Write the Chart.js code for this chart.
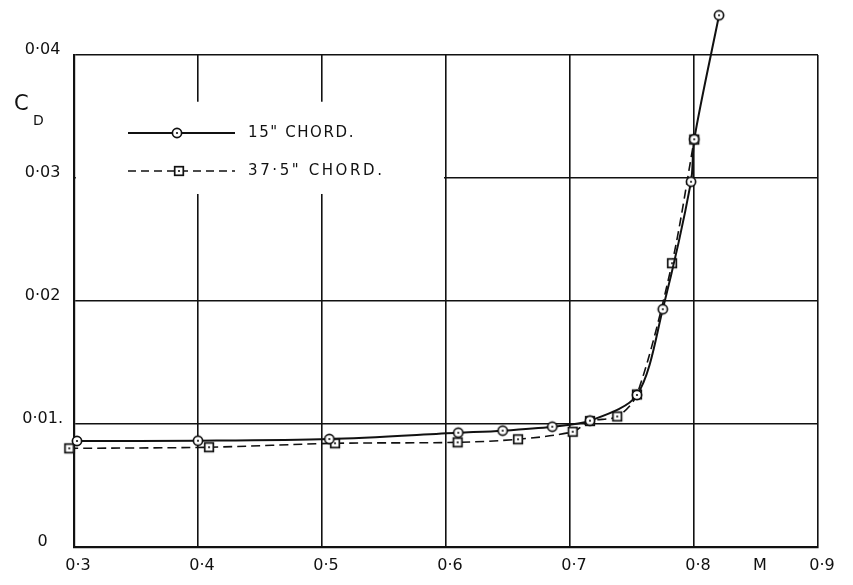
<!DOCTYPE html>
<html><head><meta charset="utf-8">
<script src="https://cdn.jsdelivr.net/npm/chart.js@4/dist/chart.umd.min.js"></script>
<style>html,body{margin:0;padding:0;background:#fff}#wrap{width:853px;height:585px}</style>
</head><body><div id="wrap"><canvas id="c" width="853" height="585"></canvas></div>
<script>
// ---- data ----
const machChord15 = [0.3024, 0.400, 0.5059, 0.6099, 0.6457, 0.6857, 0.7161, 0.7540, 0.7748, 0.7976, 0.8002, 0.8202];
const cdChord15   = [0.00862, 0.00864, 0.00878, 0.00929, 0.00946, 0.00978, 0.01027, 0.01236, 0.01933, 0.0297, 0.03315, 0.04323];
const machChord375 = [0.2962, 0.4089, 0.5105, 0.6094, 0.6581, 0.7022, 0.7161, 0.7381, 0.7540, 0.7823, 0.8002];
const cdChord375   = [0.00802, 0.00811, 0.00843, 0.00851, 0.00876, 0.00937, 0.01024, 0.01061, 0.0124, 0.02307, 0.03313];
const seriesNames = ['15" CHORD.', '37·5" CHORD.'];
const xTickLabels = ['0·3', '0·4', '0·5', '0·6', '0·7', '0·8', '0·9'];
const yTickLabels = ['0', '0·01.', '0·02', '0·03', '0·04'];
const xAxisLabel = 'M';
const yAxisLabelMain = 'C';
const yAxisLabelSub = 'D';

const INK = '#111';
const FONT = "'DejaVu Sans', sans-serif";

function makeMarker(kind) {
  const c = document.createElement('canvas');
  c.width = 14; c.height = 14;
  const g = c.getContext('2d');
  g.fillStyle = '#fff'; g.strokeStyle = INK; g.lineWidth = 1.7;
  if (kind === 'circle') {
    g.beginPath(); g.arc(7, 7, 4.6, 0, Math.PI * 2); g.fill(); g.stroke();
  } else {
    g.fillRect(2.7, 2.7, 8.6, 8.6); g.strokeRect(2.7, 2.7, 8.6, 8.6);
  }
  g.fillStyle = INK; g.beginPath(); g.arc(7, 7, 1.1, 0, Math.PI * 2); g.fill();
  return c;
}
const circleMarker = makeMarker('circle');
const squareMarker = makeMarker('square');

const xGridColor = (ctx) => (Math.round(ctx.tick.value * 100) % 10 === 0 ? INK : 'rgba(0,0,0,0)');

const paperPlugin = {
  id: 'paper',
  beforeDatasetsDraw(chart) {
    // blank the grid behind the legend, as in the original sheet
    const { ctx, scales: { x, y } } = chart;
    const x0 = x.getPixelForValue(0.3) + 2, x1 = x.getPixelForValue(0.6) - 2;
    const y0 = y.getPixelForValue(0.0362), y1 = y.getPixelForValue(0.0287);
    ctx.save(); ctx.fillStyle = '#fff'; ctx.fillRect(x0, y0, x1 - x0, y1 - y0); ctx.restore();
  },
  afterDraw(chart) {
    const { ctx, chartArea: a } = chart;
    ctx.save();
    ctx.fillStyle = INK; ctx.strokeStyle = INK;
    // y axis title C_D
    ctx.textBaseline = 'middle'; ctx.textAlign = 'left';
    ctx.font = '21px ' + FONT;
    ctx.fillText(yAxisLabelMain, 14, 105);
    ctx.font = '14px ' + FONT;
    ctx.fillText(yAxisLabelSub, 33, 121);
    // legend
    const lx0 = a.left + 54, lx1 = a.left + 161, ly1 = a.top + 78, ly2 = a.top + 116;
    ctx.lineWidth = 2; ctx.setLineDash([]);
    ctx.beginPath(); ctx.moveTo(lx0, ly1); ctx.lineTo(lx1, ly1); ctx.stroke();
    ctx.drawImage(circleMarker, a.left + 103 - 7, ly1 - 7);
    ctx.lineWidth = 1.6; ctx.setLineDash([8, 5]);
    ctx.beginPath(); ctx.moveTo(lx0, ly2); ctx.lineTo(lx1, ly2); ctx.stroke();
    ctx.setLineDash([]);
    ctx.drawImage(squareMarker, a.left + 105 - 7, ly2 - 7);
    ctx.font = '15px ' + FONT;
    ctx.letterSpacing = '1.6px';
    ctx.fillText(seriesNames[0], a.left + 174, ly1);
    ctx.letterSpacing = '2.6px';
    ctx.fillText(seriesNames[1], a.left + 174, ly2);
    ctx.restore();
  }
};

new Chart(document.getElementById('c'), {
  type: 'line',
  data: {
    datasets: [
      {
        label: seriesNames[0],
        data: machChord15.map((m, i) => ({ x: m, y: cdChord15[i] })),
        borderColor: INK, borderWidth: 2,
        tension: 0.3, capBezierPoints: false,
        pointStyle: circleMarker, pointRadius: 45, pointBorderWidth: 1,
        clip: false, fill: false, order: 0
      },
      {
        label: seriesNames[1],
        data: machChord375.map((m, i) => ({ x: m, y: cdChord375[i] })),
        borderColor: INK, borderWidth: 1.6, borderDash: [9, 5],
        tension: 0.3, capBezierPoints: false,
        pointStyle: squareMarker, pointRadius: 45, pointBorderWidth: 1,
        clip: false, fill: false, order: 1
      }
    ]
  },
  options: {
    responsive: false, animation: false, devicePixelRatio: 1, events: [],
    layout: { autoPadding: false, padding: { top: 55, right: 35, left: 0, bottom: 0 } },
    plugins: { legend: { display: false }, tooltip: { enabled: false } },
    scales: {
      x: {
        type: 'linear', min: 0.3, max: 0.9,
        afterFit: (s) => { s.height = 38; },
        border: { display: true, color: INK, width: 2.2 },
        grid: { color: xGridColor, lineWidth: 1.6, drawTicks: false },
        ticks: {
          stepSize: 0.05, autoSkip: false, maxRotation: 0, minRotation: 0,
          labelOffset: 4, padding: 9, color: INK, font: { family: FONT, size: 16 },
          callback: (v) => {
            const k = Math.round(v * 100);
            if (k % 10 === 0) return xTickLabels[(k - 30) / 10];
            if (k === 85) return xAxisLabel;
            return '';
          }
        }
      },
      y: {
        type: 'linear', min: 0, max: 0.04,
        afterFit: (s) => { s.width = 74; },
        border: { display: true, color: INK, width: 2.2 },
        grid: { color: INK, lineWidth: 1.6, drawTicks: false },
        ticks: {
          stepSize: 0.01, labelOffset: -5, padding: 11, crossAlign: 'center',
          color: INK, font: { family: FONT, size: 16 },
          callback: (v) => yTickLabels[Math.round(v * 100)]
        }
      }
    }
  },
  plugins: [paperPlugin]
});
</script>
</body></html>
